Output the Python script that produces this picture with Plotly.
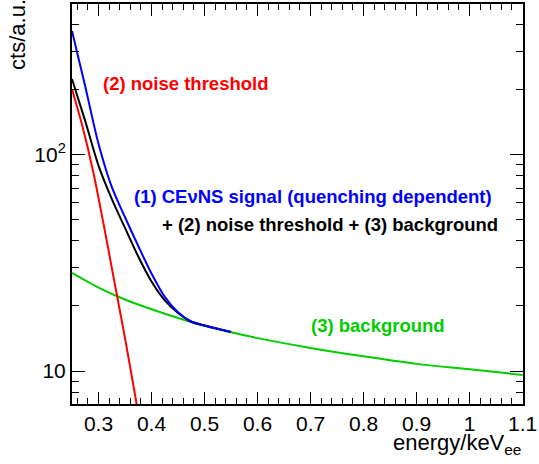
import plotly.graph_objects as go
import math

# background (3)
x_bg = [0.25, 0.30, 0.35, 0.40, 0.45, 0.50, 0.55, 0.60, 0.70, 0.80, 0.90, 1.00, 1.10]
bg = [28.4, 24.3, 21.4, 19.3, 17.6, 16.2, 15.1, 14.2, 12.8, 11.7, 10.8, 10.2, 9.6]

# noise threshold (2)
x_noise = [0.25, 0.27, 0.29, 0.31, 0.33, 0.35, 0.37, 0.39]
noise = [200, 134, 83.3, 47.1, 25.8, 14.2, 7.5, 3.9]

# signal curves
x_sig = [0.25, 0.275, 0.30, 0.325, 0.35, 0.375, 0.40, 0.425, 0.45, 0.475, 0.50, 0.525, 0.55]
sig_blue = [372, 206, 112, 70.8, 51.3, 37.8, 28.2, 22.0, 18.7, 16.95, 16.25, 15.68, 15.15]
sig_black = [223, 142.6, 88.9, 62.4, 45.8, 33.8, 25.9, 21.2, 18.55, 16.9, 16.23, 15.67, 15.15]

x_ticks = [0.3, 0.4, 0.5, 0.6, 0.7, 0.8, 0.9, 1.0, 1.1]
x_ticklabels = ["0.3", "0.4", "0.5", "0.6", "0.7", "0.8", "0.9", "1", "1.1"]
y_ticks = [10, 100]
y_ticklabels = ["10", "10<sup>2</sup>"]
y_minor = [8, 9, 20, 30, 40, 50, 60, 70, 80, 90, 200, 300, 400]
x_minor = [round(0.26 + 0.02 * i, 2) for i in range(43)]

GREEN = "rgb(0,204,0)"
FONT = "Liberation Sans, Arial, sans-serif"

fig = go.Figure()
fig.add_trace(go.Scatter(x=x_bg, y=bg, mode="lines", line=dict(color=GREEN, width=2, shape="spline", smoothing=0.8)))
fig.add_trace(go.Scatter(x=x_noise, y=noise, mode="lines", line=dict(color="red", width=2, shape="spline", smoothing=0.8)))
fig.add_trace(go.Scatter(x=x_sig, y=sig_black, mode="lines", line=dict(color="black", width=2, shape="spline", smoothing=0.8)))
fig.add_trace(go.Scatter(x=x_sig, y=sig_blue, mode="lines", line=dict(color="blue", width=2, shape="spline", smoothing=0.8)))

ymin, ymax = 7.05, 495

fig.update_layout(
    width=539, height=464,
    margin=dict(l=72, r=13, t=2, b=60),
    paper_bgcolor="white", plot_bgcolor="white",
    showlegend=False,
    font=dict(family=FONT, color="black"),
    xaxis=dict(
        range=[0.25, 1.1008], showgrid=False, zeroline=False,
        showline=True, linecolor="black", linewidth=2, mirror="ticks",
        ticks="inside", ticklen=12, tickwidth=1, tickcolor="black",
        tickmode="array", tickvals=x_ticks, ticktext=x_ticklabels,
        tickfont=dict(size=21, family=FONT), ticklabeloverflow="allow",
        minor=dict(tickmode="array", tickvals=x_minor, ticks="inside", ticklen=6, tickcolor="black", tickwidth=1),
    ),
    yaxis=dict(
        type="log", range=[math.log10(ymin), math.log10(ymax)], showgrid=False, zeroline=False,
        showline=True, linecolor="black", linewidth=2, mirror="ticks",
        ticks="inside", ticklen=13, tickwidth=1, tickcolor="black",
        tickmode="array", tickvals=y_ticks, ticktext=y_ticklabels,
        tickfont=dict(size=21, family=FONT),
        minor=dict(tickmode="array", tickvals=y_minor, ticks="inside", ticklen=7, tickcolor="black", tickwidth=1),
    ),
)

def ann(text, x, y, color, size=18.5, **kw):
    fig.add_annotation(text=text, x=x, y=y, showarrow=False, xanchor="left", yanchor="middle",
                       font=dict(size=size, color=color, family=FONT), **kw)

ann("<b>(2) noise threshold</b>", 0.3050, 2.329, "red")
ann("<b>(1) CEνNS signal (quenching dependent)</b>", 0.3633, 1.808, "blue")
ann("<b>+ (2) noise threshold + (3) background</b>", 0.4162, 1.678, "black")
ann("<b>(3) background</b>", 0.6963, 1.211, GREEN)

fig.add_annotation(text="energy/keV<sub>ee</sub>", xref="paper", yref="paper", x=1.0, y=-0.10,
                   xanchor="right", yanchor="middle", showarrow=False,
                   font=dict(size=22, family=FONT, color="black"))
fig.add_annotation(text="cts/a.u.", xref="paper", yref="paper", x=-0.12, y=0.925,
                   xanchor="center", yanchor="middle", textangle=-90, showarrow=False,
                   font=dict(size=22, family=FONT, color="black"))

fig.write_html("out.html")
